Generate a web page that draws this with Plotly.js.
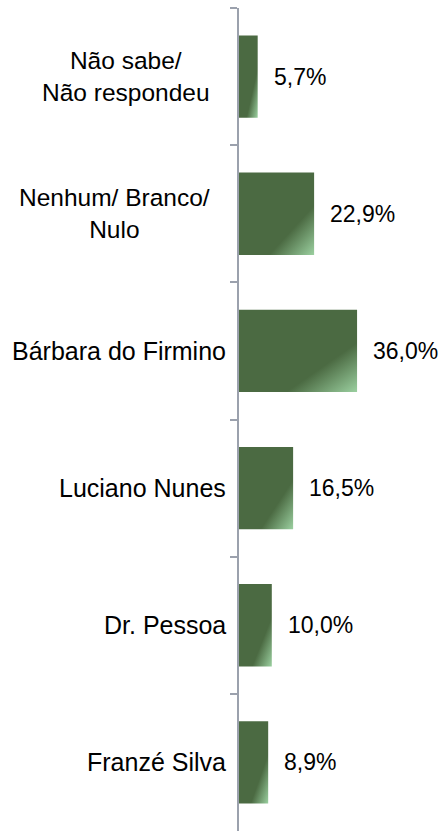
<!DOCTYPE html>
<html>
<head>
<meta charset="utf-8">
<script src="https://cdn.plot.ly/plotly-3.0.1.min.js"></script>
<style>
html,body{margin:0;padding:0;background:#fff;}
#chart{width:443px;height:831px;}
</style>
</head>
<body>
<div id="chart"></div>
<script>
const categories = ["Não sabe/<br>Não respondeu", "Nenhum/ Branco/<br>Nulo", "Bárbara do Firmino", "Luciano Nunes", "Dr. Pessoa", "Franzé Silva"];
const values = [5.7, 22.9, 36.0, 16.5, 10.0, 8.9];
const valueLabels = ["5,7%", "22,9%", "36,0%", "16,5%", "10,0%", "8,9%"];

const font = "Liberation Sans, Arial, sans-serif";

const trace = {
  type: "bar",
  orientation: "h",
  y: categories,
  x: values,
  width: 0.6,
  marker: {color: "#4b6a42", line: {width: 0}},
  hoverinfo: "none"
};

const annotations = [];
categories.forEach((c, i) => {
  const wrapped = c.indexOf("<br>") >= 0;
  annotations.push({
    x: 0, xref: "paper", y: c, yref: "y",
    text: c, showarrow: false, xanchor: "right", yanchor: "middle",
    align: "center", xshift: wrapped ? -27 : -11,
    font: {family: font, size: wrapped ? 24.5 : 25, color: "#000"}
  });
  annotations.push({
    x: values[i], xref: "x", y: c, yref: "y",
    text: valueLabels[i], showarrow: false, xanchor: "left", yanchor: "middle",
    xshift: 14,
    font: {family: font, size: 23, color: "#000"}
  });
});

const layout = {
  width: 443, height: 831,
  margin: {l: 239, r: 0, t: 8, b: 0},
  paper_bgcolor: "#fff", plot_bgcolor: "#fff",
  showlegend: false,
  xaxis: {range: [0, 62.2], visible: false, fixedrange: true},
  yaxis: {
    type: "category", autorange: "reversed",
    showticklabels: false, showgrid: false, zeroline: false,
    showline: true, linecolor: "#9ba1ad", linewidth: 2,
    ticks: "outside", tickson: "boundaries", ticklen: 7,
    tickcolor: "#9ba1ad", tickwidth: 2
  },
  annotations: annotations
};

Plotly.newPlot("chart", [trace], layout, {staticPlot: true, displayModeBar: false}).then(gd => {
  const svg = gd.querySelector("svg.main-svg");
  const ns = "http://www.w3.org/2000/svg";
  let defs = svg.querySelector("defs");
  if (!defs) { defs = document.createElementNS(ns, "defs"); svg.insertBefore(defs, svg.firstChild); }
  const lg = document.createElementNS(ns, "linearGradient");
  lg.setAttribute("id", "barGrad");
  lg.setAttribute("x1", "0"); lg.setAttribute("y1", "0");
  lg.setAttribute("x2", "1"); lg.setAttribute("y2", "1");
  [["0", "#4b6a42"], ["0.7", "#4b6a42"], ["1", "#9bd0a0"]].forEach(([o, c]) => {
    const s = document.createElementNS(ns, "stop");
    s.setAttribute("offset", o); s.setAttribute("stop-color", c);
    lg.appendChild(s);
  });
  defs.appendChild(lg);
  gd.querySelectorAll(".barlayer .point path").forEach(p => { p.style.fill = "url(#barGrad)"; });
});
</script>
</body>
</html>
